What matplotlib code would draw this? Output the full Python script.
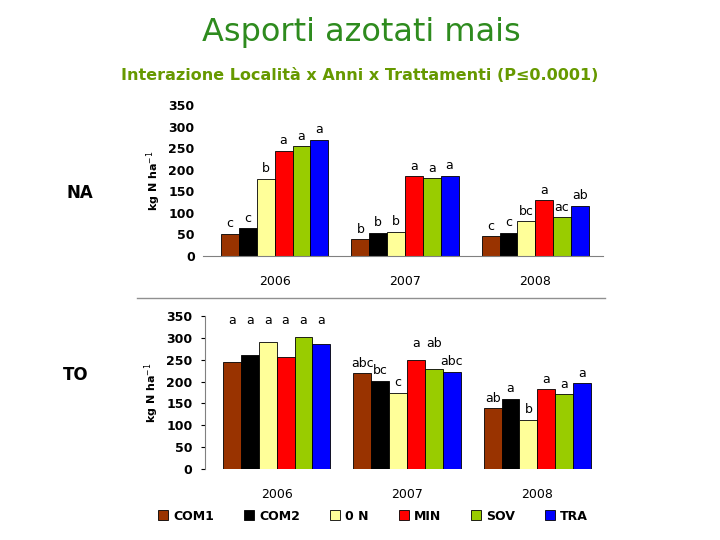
import matplotlib.pyplot as plt
import numpy as np
from matplotlib.patches import Patch
from matplotlib.lines import Line2D

YEARS = ["2006", "2007", "2008"]
TREATMENTS = ["COM1", "COM2", "0 N", "MIN", "SOV", "TRA"]
COLORS = ["#993300", "#000000", "#FFFF99", "#FF0000", "#99CC00", "#0000FF"]

# kg N/ha, rows = treatments, cols = years
NA_VALUES = [
    [52, 39, 46],
    [65, 54, 54],
    [179, 56, 81],
    [244, 185, 129],
    [254, 180, 90],
    [269, 186, 117],
]
NA_LETTERS = [
    ["c", "b", "c"],
    ["c", "b", "c"],
    ["b", "b", "bc"],
    ["a", "a", "a"],
    ["a", "a", "ac"],
    ["a", "a", "ab"],
]
TO_VALUES = [
    [245, 219, 139],
    [260, 202, 161],
    [291, 174, 113],
    [256, 250, 183],
    [301, 228, 171],
    [285, 222, 196],
]
TO_LETTERS = [
    ["a", "abc", "ab"],
    ["a", "bc", "a"],
    ["a", "c", "b"],
    ["a", "a", "a"],
    ["a", "ab", "a"],
    ["a", "abc", "a"],
]

plt.rcParams["font.family"] = ["DejaVu Sans"]

fig = plt.figure(figsize=(7.2, 5.4), dpi=100)
W, H = 720, 540


def px_axes(x0, x1, y_top, y_bot):
    return fig.add_axes([x0 / W, 1 - y_bot / H, (x1 - x0) / W, (y_bot - y_top) / H])


def draw_panel(ax, values, letters, first_year_letter_y=None, raised=(), raised_y=None,
               show_spine_left=False, show_spine_bottom=True):
    n = len(TREATMENTS)
    width = 0.137
    x = np.arange(len(YEARS))
    offsets = (np.arange(n) - (n - 1) / 2) * width
    for i in range(n):
        ax.bar(x + offsets[i], values[i], width, color=COLORS[i], edgecolor="black", linewidth=0.6)
        for j in range(len(YEARS)):
            y = values[i][j] + 8
            if (i, j) in raised:
                y = raised_y
            if first_year_letter_y is not None and j == 0:
                y = first_year_letter_y
            ax.text(x[j] + offsets[i], y, letters[i][j], ha="center", va="bottom", fontsize=9)
    ax.set_ylim(0, 350)
    ax.set_yticks(np.arange(0, 351, 50))
    ax.set_xlim(-0.55, 2.52)
    ax.set_xticks(x)
    ax.set_xticklabels(YEARS, fontsize=9)
    ax.tick_params(axis="x", length=0, pad=14)
    ax.tick_params(axis="y", labelsize=9, length=3 if show_spine_left else 0, pad=6)
    for lab in ax.get_yticklabels():
        lab.set_fontweight("bold")
    for side in ("top", "right"):
        ax.spines[side].set_visible(False)
    ax.spines["left"].set_visible(show_spine_left)
    ax.spines["bottom"].set_visible(show_spine_bottom)
    ax.spines["left"].set_color("#808080")
    ax.spines["bottom"].set_color("#808080")
    ax.set_ylabel("kg N ha$^{-1}$", fontsize=8, fontweight="bold", labelpad=4)


ax_top = px_axes(203, 603, 105, 256)
draw_panel(ax_top, NA_VALUES, NA_LETTERS)

ax_bot = px_axes(205, 605, 316, 469)
draw_panel(ax_bot, TO_VALUES, TO_LETTERS, first_year_letter_y=325, raised=((3, 1), (4, 1)),
           raised_y=272, show_spine_left=True, show_spine_bottom=False)

fig.text(361 / W, 1 - 33 / H, "Asporti azotati mais", ha="center", va="center",
         fontsize=23, color="#2E8B1E")
fig.text(360 / W, 1 - 75 / H, "Interazione Località x Anni x Trattamenti (P\u22640.0001)",
         ha="center", va="center", fontsize=11.5, color="#669900", fontweight="bold")
fig.text(80 / W, 1 - 193 / H, "NA", ha="center", va="center", fontsize=12, fontweight="bold")
fig.text(76 / W, 1 - 375 / H, "TO", ha="center", va="center", fontsize=12, fontweight="bold")

fig.add_artist(Line2D([137 / W, 605 / W], [1 - 298 / H, 1 - 298 / H], color="#909090", linewidth=1))

handles = [Patch(facecolor=c, edgecolor="black", linewidth=0.6) for c in COLORS]
fig.legend(handles, TREATMENTS, loc="center", bbox_to_anchor=(373 / W, 1 - 516 / H), ncol=6,
           frameon=False, handlelength=0.8, handleheight=0.8, handletextpad=0.4,
           columnspacing=2.4, prop={"weight": "bold", "size": 9})

fig.savefig("out.png", dpi=100)
